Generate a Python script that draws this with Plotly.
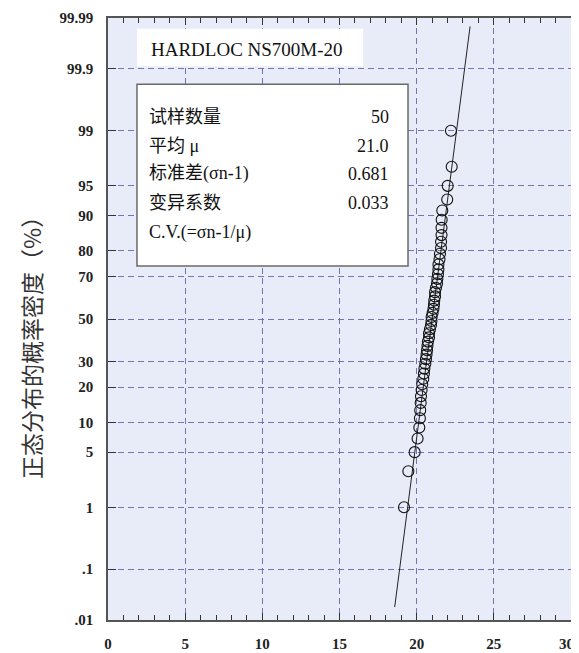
from statistics import NormalDist
import plotly.graph_objects as go

# ---------------- data ----------------
sample_values = [
    19.18, 19.46, 19.87, 20.06, 20.17, 20.21, 20.23, 20.26, 20.28, 20.32,
    20.36, 20.43, 20.47, 20.50, 20.56, 20.60, 20.64, 20.67, 20.70, 20.73,
    20.80, 20.80, 20.86, 20.93, 20.96, 20.97, 21.03, 21.09, 21.12, 21.14,
    21.19, 21.19, 21.25, 21.32, 21.34, 21.38, 21.41, 21.41, 21.48, 21.51,
    21.58, 21.58, 21.61, 21.61, 21.62, 21.66, 21.98, 22.01, 22.27, 22.22,
]
fit_mean = 21.0
fit_sd = 0.681
line_pct = [0.0186, 99.985]          # probability span of fitted line (%)
y_tick_pct = [0.01, 0.1, 1, 5, 10, 20, 30, 50, 70, 80, 90, 95, 99, 99.9, 99.99]
y_tick_text = [".01", ".1", "1", "5", "10", "20", "30", "50", "70", "80",
               "90", "95", "99", "99.9", "99.99"]
x_ticks = [0, 5, 10, 15, 20, 25, 30]

title_text = "HARDLOC NS700M-20"
stat_labels = ["试样数量", "平均 μ", "标准差(σn-1)", "变异系数", "C.V.(=σn-1/μ)"]
stat_values = ["50", "21.0", "0.681", "0.033", ""]
y_title = "正态分布的概率密度（%）"

# ---------------- helpers ----------------
nd = NormalDist()
def probit(pct):
    return nd.inv_cdf(pct / 100.0)

n = len(sample_values)
pos_z = [nd.inv_cdf((i - 0.5) / n) for i in range(1, n + 1)]
line_z = [probit(p) for p in line_pct]
line_x = [fit_mean + z * fit_sd for z in line_z]
tick_z = [probit(p) for p in y_tick_pct]
zmin, zmax = probit(0.01), probit(99.99)

serif = "Liberation Serif, Times New Roman, serif"
mixed = "Liberation Serif, Noto Sans CJK SC, serif"
grid_col = "rgba(95,95,165,0.85)"
axis_col = "#555555"
tick_font = dict(family=serif, size=15, color="#222222", weight="bold")

fig = go.Figure()
fig.add_trace(go.Scatter(
    x=line_x, y=line_z, mode="lines",
    line=dict(color="#222222", width=1), hoverinfo="skip", showlegend=False))
fig.add_trace(go.Scatter(
    x=sample_values, y=pos_z, mode="markers",
    marker=dict(symbol="circle-open", size=11, color="#111111",
                line=dict(width=1.1, color="#111111")),
    showlegend=False))

# page body has an 8px default margin, so the figure is sized/placed to suit
fig.update_layout(
    width=571, height=645,
    margin=dict(l=100, r=8, t=10, b=33),
    paper_bgcolor="white",
    plot_bgcolor="#e8ecf8",
    showlegend=False,
)

# last x label would overflow the page edge, so it is drawn as an annotation
x_tick_text = [str(v) for v in x_ticks[:-1]] + [""]

fig.update_xaxes(
    automargin=False,
    range=[0, 30], tickvals=x_ticks, ticktext=x_tick_text,
    showgrid=True, gridcolor=grid_col, griddash="6px,4px", gridwidth=1,
    zeroline=False, showline=True, linecolor=axis_col, linewidth=1.5,
    mirror="ticks", ticks="inside", ticklen=7, tickcolor="#333333", tickwidth=1,
    minor=dict(dtick=1, ticks="inside", ticklen=5, tickcolor="#333333",
               tickwidth=1, showgrid=False),
    tickfont=tick_font,
    ticklabelstandoff=9,
)
fig.add_annotation(xref="x", yref="paper", x=x_ticks[-1], y=0,
                   text=str(x_ticks[-1]), showarrow=False,
                   font=tick_font, xanchor="right", yanchor="top",
                   xshift=5, yshift=-14)

fig.update_yaxes(
    automargin=False,
    range=[zmin, zmax], tickvals=tick_z, ticktext=y_tick_text,
    showgrid=True, gridcolor=grid_col, griddash="6px,4px", gridwidth=1,
    zeroline=False, showline=True, linecolor=axis_col, linewidth=1.5,
    mirror=True, ticks="inside", ticklen=8, tickcolor="#333333", tickwidth=1,
    tickfont=tick_font,
    ticklabelstandoff=10,
)

# title box
fig.add_shape(type="rect", xref="paper", yref="paper",
              x0=0.0626, x1=0.551, y0=0.920, y1=0.982,
              fillcolor="white", line=dict(width=0), layer="above")
fig.add_annotation(xref="paper", yref="paper", x=0.300, y=0.9485,
                   text=title_text, showarrow=False,
                   font=dict(family=serif, size=19, color="#111111"),
                   xanchor="center", yanchor="middle")

# stats box
fig.add_shape(type="rect", xref="paper", yref="paper",
              x0=0.0626, x1=0.648, y0=0.588, y1=0.890,
              fillcolor="white", line=dict(width=1.5, color="#6a6a6a"),
              layer="above")
row_y = [0.8355, 0.7874, 0.7409, 0.6927, 0.6429]
for lab, val, yy in zip(stat_labels, stat_values, row_y):
    fig.add_annotation(xref="paper", yref="paper", x=0.0842, y=yy,
                       text=lab, showarrow=False,
                       font=dict(family=mixed, size=18, color="#111111"),
                       xanchor="left", yanchor="middle")
    if val:
        fig.add_annotation(xref="paper", yref="paper", x=0.611, y=yy,
                           text=val, showarrow=False,
                           font=dict(family=serif, size=18, color="#111111"),
                           xanchor="right", yanchor="middle")

# y axis title
fig.add_annotation(xref="paper", yref="paper", x=-0.166, y=0.462,
                   text=y_title, showarrow=False, textangle=-90,
                   font=dict(family="Noto Sans CJK SC", size=23, color="#333333"),
                   xanchor="center", yanchor="middle")

fig.write_html("out.html")
